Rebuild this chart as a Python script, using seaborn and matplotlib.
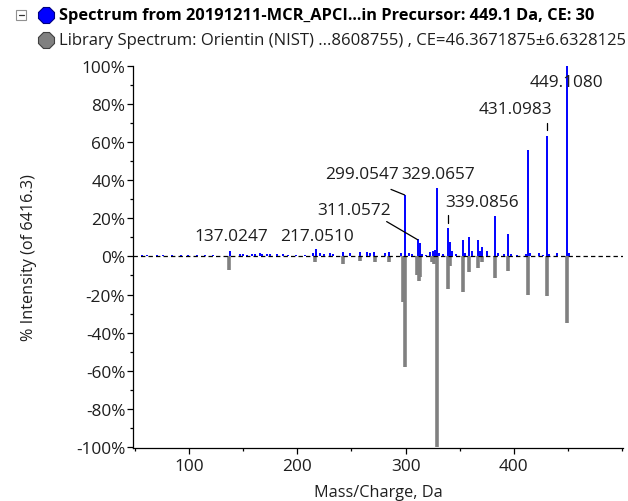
import numpy as np
import pandas as pd
import matplotlib
matplotlib.use("Agg")
import matplotlib.pyplot as plt
import seaborn as sns
from matplotlib.patches import Rectangle
from matplotlib.ticker import MultipleLocator, FuncFormatter

# ---- data ----
sample_mz = [56, 61, 70, 76, 84, 92, 99, 107, 115, 122, 138, 147, 150, 153, 158,
             161, 165, 167, 172, 175, 181, 187, 191, 199, 207, 214, 217.05, 221,
             225, 230, 233, 242, 249, 258, 264, 267, 271, 281, 285, 296, 299.05,
             303, 306, 311.06, 313, 315, 319, 323, 325, 327, 329.07, 331, 335,
             339.09, 341, 343, 347, 353, 355, 359, 361, 367, 369, 371, 375, 383,
             385, 391, 395, 397, 403, 411, 413, 415, 423, 427, 431.1, 433, 440,
             449.11, 451]
sample_int = [0.5, 0.6, 0.5, 0.7, 0.8, 0.6, 0.5, 0.6, 0.7, 0.5, 3.0, 1.2, 1.5, 1.0,
              1.3, 1.5, 1.8, 1.4, 1.2, 1.4, 1.3, 1.5, 1.0, 1.0, 0.8, 2.0, 4.0, 2.0,
              1.5, 2.0, 1.5, 2.5, 2.0, 2.5, 2.5, 2.0, 2.5, 2.0, 2.5, 2.0, 32.0,
              2.0, 1.5, 9.0, 7.0, 1.5, 1.0, 2.5, 3.0, 3.5, 36.0, 2.0, 1.5,
              15.0, 7.5, 3.0, 1.5, 8.6, 2.0, 10.0, 3.0, 8.6, 3.0, 5.0, 2.6, 21.0,
              2.0, 1.5, 12.0, 1.5, 1.0, 1.5, 56.0, 2.0, 2.0, 1.0, 63.0, 1.5, 2.0,
              100.0, 2.0]

library_mz = [137, 216, 242, 258, 272, 285, 298, 299.05, 311, 312, 313.5, 324, 326,
              329.07, 339.09, 341, 353, 359, 367, 371, 383, 395, 413, 431.1, 449.11]
library_int = [7, 2.8, 4, 2.5, 3, 3, 24, 58, 10, 13, 11, 3, 4,
               100, 17, 5, 18.5, 8.3, 6, 3, 11.3, 7.4, 20, 21, 35]

peak_labels = ["449.1080", "431.0983", "329.0657", "339.0856",
               "299.0547", "311.0572", "217.0510", "137.0247"]

x_ticks = [100, 200, 300, 400]
y_ticks = [-100, -80, -60, -40, -20, 0, 20, 40, 60, 80, 100]

sample_df = pd.DataFrame({"mz": sample_mz, "intensity": sample_int})
library_df = pd.DataFrame({"mz": library_mz, "intensity": library_int})

# ---- style ----
sns.set_theme(style="ticks")
plt.rcParams["font.family"] = ["Open Sans", "DejaVu Sans"]
txt_color = "#1e1e1e"

fig = plt.figure(figsize=(6.28, 5.02), dpi=100)
ax = fig.add_axes([133 / 628, 1 - 449 / 502, (623 - 133) / 628, (449 - 67) / 502])

# library spectrum (mirrored, gray)
ax.vlines(library_df["mz"], 0, -library_df["intensity"], color="#808080",
          lw=2.6, zorder=2)
# zero line
ax.axhline(0, color="black", lw=0.9, ls=(0, (3.5, 2.5)), zorder=3)
# sample spectrum (blue)
ax.vlines(sample_df["mz"], 0, sample_df["intensity"], color="#0000ff",
          lw=1.4, zorder=4)

ax.set_xlim(48, 501)
ax.set_ylim(-100.6, 100)
ax.set_xticks(x_ticks)
ax.set_yticks(y_ticks)
ax.xaxis.set_minor_locator(MultipleLocator(50))
ax.yaxis.set_minor_locator(MultipleLocator(10))
ax.yaxis.set_major_formatter(FuncFormatter(lambda v, p: f"{int(round(v))}%"))
ax.tick_params(axis="both", which="major", length=4, width=0.9, color="black",
               labelsize=12.4, labelcolor=txt_color, pad=1.5, direction="out")
ax.tick_params(axis="x", which="major", pad=3)
ax.tick_params(axis="both", which="minor", length=2.5, width=0.9, color="black",
               direction="out")
for s in ["left", "bottom"]:
    ax.spines[s].set_color("black")
    ax.spines[s].set_linewidth(0.9)
sns.despine(ax=ax)

ax.set_xlabel("Mass/Charge, Da", fontsize=11.7, color=txt_color)
ax.set_ylabel("% Intensity (of 6416.3)", fontsize=11.7, color=txt_color)
ax.xaxis.set_label_coords(0.5, -0.095)
ax.yaxis.set_label_coords(-0.196, 0.5)

# ---- peak labels ----
lab_pos = [(449.1, 91.5), (402, 77.4), (330.3, 43.3), (371, 28.6),
           (259.5, 43.3), (252.4, 24.6), (218, 10.6), (138.8, 10.6)]
for t, (lx, ly) in zip(peak_labels, lab_pos):
    ax.text(lx, ly, t, ha="center", va="center", fontsize=12.4, color=txt_color,
            zorder=5)
lc = dict(color="black", lw=0.9, zorder=5)
ax.plot([431.1, 431.1], [70.1, 66.4], **lc)
ax.plot([339.09, 339.09], [21.8, 17.6], **lc)
ax.plot([286.5, 299.05], [35.2, 32.3], **lc)
ax.plot([282.5, 311.06], [18.3, 8.8], **lc)

# ---- legend header ----
fig.patches.append(Rectangle((16 / 628, 1 - 21 / 502), 10 / 628, 10 / 502,
                             transform=fig.transFigure, fill=False,
                             ec="#909090", lw=0.8))
fig.lines.append(plt.Line2D([18.5 / 628, 23.5 / 628], [1 - 16 / 502, 1 - 16 / 502],
                            transform=fig.transFigure, color="#333333", lw=0.9))
fig.lines.append(plt.Line2D([46 / 628], [1 - 16 / 502], marker="8", ms=12.5,
                            mfc="#0000ff", mec="#000080", mew=0.8, ls="none",
                            transform=fig.transFigure))
fig.lines.append(plt.Line2D([46 / 628], [1 - 41 / 502], marker="8", ms=12.5,
                            mfc="#808080", mec="#404040", mew=0.8, ls="none",
                            transform=fig.transFigure))
fig.text(59 / 628, 1 - 16 / 502,
         "Spectrum from 20191211-MCR_APCI...in Precursor: 449.1 Da, CE: 30",
         ha="left", va="center", fontsize=11.8, fontweight="bold", color="black")
fig.text(59 / 628, 1 - 41 / 502,
         "Library Spectrum: Orientin (NIST) ...8608755) , CE=46.3671875\u00b16.6328125",
         ha="left", va="center", fontsize=11.95, color=txt_color)

fig.savefig("out.png", dpi=100)
